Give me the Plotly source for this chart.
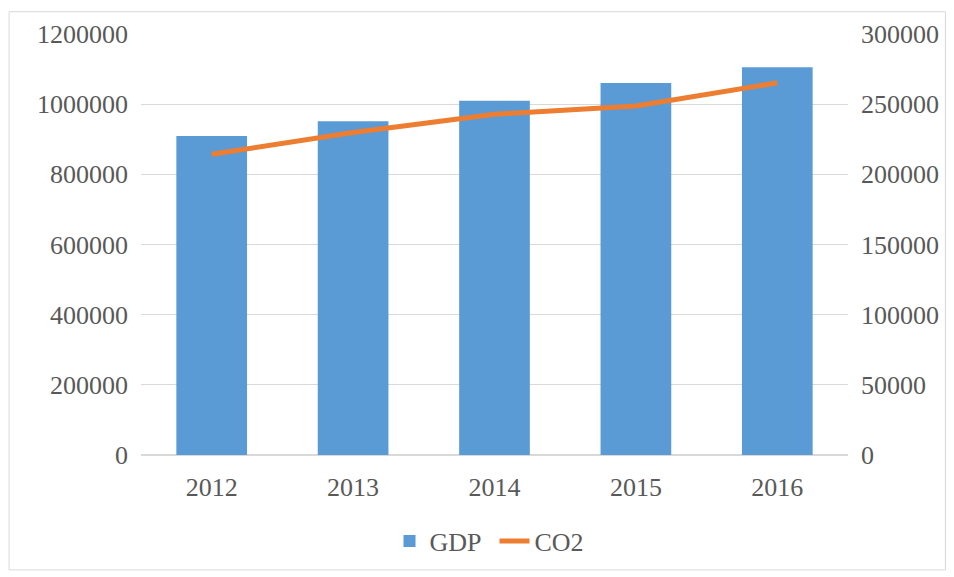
import plotly.graph_objects as go

years = ["2012", "2013", "2014", "2015", "2016"]
gdp = [909000, 951000, 1010000, 1060000, 1105000]
co2 = [214300, 229800, 242800, 248700, 265200]

left_ticks = [0, 200000, 400000, 600000, 800000, 1000000, 1200000]
right_ticks = [0, 50000, 100000, 150000, 200000, 250000, 300000]

OFF = 8  # page body margin offset
W, H = 954 - OFF, 577 - OFF
L, T = 141 - OFF, 31 - OFF
pw, ph = 707.5, 425
R = W - L - pw
B = H - T - ph

font_fam = "Liberation Serif, Times New Roman, serif"
tick_color = "#595959"
fs = 26

fig = go.Figure()
fig.add_trace(go.Bar(x=years, y=gdp, name="GDP", marker=dict(color="#5B9BD5", line=dict(width=0)),
                     width=0.5, yaxis="y"))
fig.add_trace(go.Scatter(x=years, y=co2, name="CO2", mode="lines",
                         line=dict(color="#ED7D31", width=5), yaxis="y2"))

def px_to_paper_x(px):
    return (px - OFF - L) / pw

def px_to_paper_y(py):
    return (H - B - (py - OFF)) / ph

fig.add_shape(type="rect", xref="paper", yref="paper",
              x0=px_to_paper_x(9), x1=px_to_paper_x(946),
              y0=px_to_paper_y(572), y1=px_to_paper_y(8.5),
              line=dict(color="#d9d9d9", width=1), fillcolor="rgba(0,0,0,0)", layer="below")

fig.update_layout(
    width=W, height=H,
    margin=dict(l=L, r=R, t=T, b=B),
    paper_bgcolor="white", plot_bgcolor="white",
    font=dict(family=font_fam, size=fs, color=tick_color),
    xaxis=dict(type="category", showgrid=False, showline=False, ticks="",
               tickfont=dict(size=fs, color=tick_color), ticklabelstandoff=14),
    yaxis=dict(range=[0, 1200000], tickvals=left_ticks, ticktext=[str(v) for v in left_ticks],
               showgrid=True, gridcolor="#d9d9d9", gridwidth=1, zeroline=True, zerolinecolor="#d9d9d9",
               showline=False, ticks="", tickfont=dict(size=fs, color=tick_color), ticklabelstandoff=12),
    yaxis2=dict(range=[0, 300000], tickvals=right_ticks, ticktext=[str(v) for v in right_ticks],
                overlaying="y", side="right", showgrid=False, zeroline=False, showline=False, ticks="",
                tickfont=dict(size=fs, color=tick_color), ticklabelstandoff=12),
    legend=dict(orientation="h", x=0.5, xanchor="center", y=px_to_paper_y(543), yanchor="middle",
                font=dict(size=fs, color=tick_color), traceorder="normal",
                entrywidth=60, entrywidthmode="pixels"),
    showlegend=True,
)

fig.write_html("out.html")
